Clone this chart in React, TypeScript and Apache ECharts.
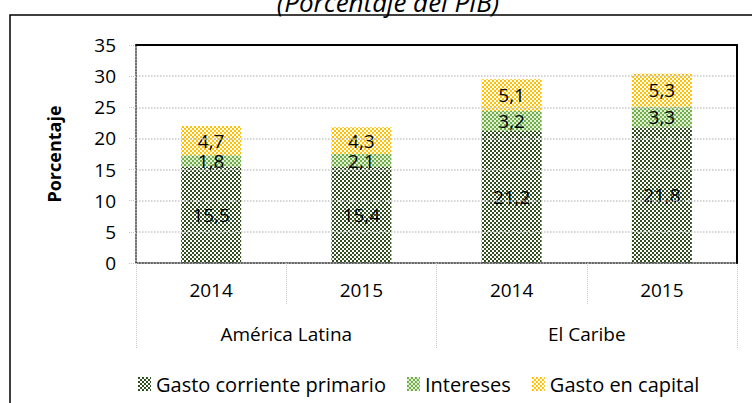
import React, { useEffect, useRef } from "react";
import * as echarts from "echarts";

const years = ["2014", "2015", "2014", "2015"];
const regions = ["América Latina", "El Caribe"];
const gastoCorriente = [15.5, 15.4, 21.2, 21.8];
const intereses = [1.8, 2.1, 3.2, 3.3];
const gastoCapital = [4.7, 4.3, 5.1, 5.3];
const seriesNames = ["Gasto corriente primario", "Intereses", "Gasto en capital"];
const titleText = "(Porcentaje del PIB)";
const yName = "Porcentaje";

const FONT = "Open Sans";

function makePattern(a: string, b: string) {
  const c = document.createElement("canvas");
  c.width = 4;
  c.height = 4;
  const ctx = c.getContext("2d")!;
  ctx.fillStyle = b;
  ctx.fillRect(0, 0, 4, 4);
  ctx.fillStyle = a;
  ctx.fillRect(0, 0, 2, 2);
  ctx.fillRect(2, 2, 2, 2);
  return { image: c, repeat: "repeat", imageWidth: 4, imageHeight: 4 } as any;
}

export default function App() {
  const ref = useRef<HTMLDivElement>(null);
  useEffect(() => {
    if (!ref.current) return;
    const chart = echarts.init(ref.current, undefined, { renderer: "svg" });
    const pDark = makePattern("#32501f", "#ffffff");
    const pGreen = makePattern("#70AD47", "#E2F0D9");
    const pYellow = makePattern("#FFC000", "#ffffff");
    const fmt = (p: any) => Number(p.value).toFixed(1).replace(".", ",");
    const label = {
      show: true,
      position: "inside",
      formatter: fmt,
      color: "#000",
      fontFamily: FONT,
      fontSize: 19,
    };
    chart.setOption({
      animation: false,
      textStyle: { fontFamily: FONT },
      graphic: [
        {
          type: "rect",
          z: -10,
          shape: { x: 10, y: 15, width: 800, height: 500 },
          style: { fill: "none", stroke: "#000", lineWidth: 1.5 },
        },
        {
          type: "text",
          x: 388,
          y: 15,
          style: {
            text: titleText,
            align: "center",
            verticalAlign: "bottom",
            font: `italic 26px "${FONT}"`,
            fill: "#000",
          },
        },
      ],
      grid: { left: 136, right: 15, top: 45, bottom: 140, containLabel: false },
      legend: {
        left: 133,
        top: 369,
        itemWidth: 13,
        itemHeight: 14,
        itemGap: 21,
        icon: "rect",
        textStyle: { fontFamily: FONT, fontSize: 20, color: "#000" },
        data: seriesNames,
      },
      xAxis: [
        {
          type: "category",
          data: years,
          position: "bottom",
          axisLine: { show: true, lineStyle: { color: "#404040", type: "dotted", width: 1.5 } },
          axisTick: { show: true, interval: 0, length: 42, lineStyle: { color: "#c8c8c8", type: "dotted" } },
          axisLabel: { margin: 17, fontSize: 19, color: "#000", fontFamily: FONT },
          z: 5,
        },
        {
          type: "category",
          data: regions,
          position: "bottom",
          axisLine: { show: false },
          axisTick: { show: true, interval: 0, length: 85, lineStyle: { color: "#c8c8c8", type: "dotted" } },
          axisLabel: { margin: 61, fontSize: 19, color: "#000", fontFamily: FONT },
        },
        {
          type: "category",
          data: years,
          position: "top",
          axisLine: { show: true, lineStyle: { color: "#000", width: 2 } },
          axisTick: { show: false },
          axisLabel: { show: false },
          z: 10,
        },
      ],
      yAxis: [
        {
          type: "value",
          min: 0,
          max: 35,
          interval: 5,
          name: yName,
          nameLocation: "middle",
          nameGap: 73,
          nameRotate: 90,
          nameTextStyle: { fontFamily: FONT, fontSize: 18, fontWeight: "bold", color: "#000" },
          axisLine: { show: true, lineStyle: { color: "#404040", type: "dotted", width: 1.5 } },
          axisTick: { show: true, length: 7, lineStyle: { color: "#c8c8c8", type: "dotted" } },
          axisLabel: { margin: 20, fontSize: 19, color: "#000", fontFamily: FONT },
          splitLine: { show: true, lineStyle: { color: "#c8c8c8", type: "dotted", width: 1.5 } },
          z: 5,
        },
        {
          type: "value",
          min: 0,
          max: 35,
          interval: 5,
          position: "right",
          axisLine: { show: true, lineStyle: { color: "#000", width: 2 } },
          axisTick: { show: false },
          axisLabel: { show: false },
          splitLine: { show: false },
          z: 10,
        },
      ],
      series: [
        {
          name: seriesNames[0],
          type: "bar",
          stack: "t",
          barWidth: 60,
          data: gastoCorriente,
          itemStyle: { color: pDark },
          label,
        },
        {
          name: seriesNames[1],
          type: "bar",
          stack: "t",
          barWidth: 60,
          data: intereses,
          itemStyle: { color: pGreen },
          label,
        },
        {
          name: seriesNames[2],
          type: "bar",
          stack: "t",
          barWidth: 60,
          data: gastoCapital,
          itemStyle: { color: pYellow },
          label,
        },
      ],
    });
    return () => chart.dispose();
  }, []);
  return (
    <div
      ref={ref}
      style={{ position: "absolute", left: 0, top: 0, width: 752, height: 403 }}
    />
  );
}
